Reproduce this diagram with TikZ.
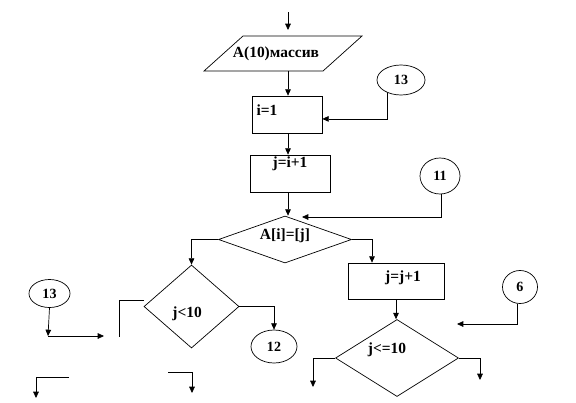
\documentclass[tikz,border=0pt]{standalone}
\usepackage{fontspec}
\setmainfont{Liberation Serif}[BoldFont={Liberation Serif Bold}]
\usetikzlibrary{shapes.geometric,arrows.meta}
\tikzset{
  box/.style={draw, rectangle, inner sep=0pt},
  cond/.style={draw, diamond, inner sep=0pt},
  link/.style={draw, ellipse, inner sep=0pt, font=\bfseries\fontsize{10}{12}\selectfont},
  arr/.style={-{Triangle[length=4.5pt,width=4pt]}},
  txt/.style={font=\bfseries\fontsize{11}{13}\selectfont}
}
\begin{document}
\begin{tikzpicture}[x=0.025cm, y=-0.025cm, line width=0.5pt, txt]
\useasboundingbox (0,0) rectangle (576,402);
% blocks
\draw (243,36) -- (362,36) -- (323,71) -- (204,71) -- cycle;
\node (inp) at (276,53.5) {A(10)массив};
\coordinate (inpN) at (288,36);
\coordinate (inpS) at (288,71);
\node[box, minimum width=1.75cm, minimum height=0.925cm, label={[xshift=-0.5cm, yshift=0.11cm]center:i=1}] (i1) at (287,114.5) {};
\node[box, minimum width=2cm, minimum height=0.925cm, label={[yshift=0.24cm]center:j=i+1}] (ji) at (290,173.5) {};
\node[cond, minimum width=3.325cm, minimum height=1.175cm, label={[yshift=0.09cm]center:A[i]=[j]}] (d1) at (285,239.5) {};
\node[box, minimum width=2.4cm, minimum height=0.9cm, label={[xshift=0.175cm, yshift=0.075cm]center:j=j+1}] (j1) at (396,281) {};
\node[cond, minimum width=2.375cm, minimum height=2.075cm, label={[xshift=-0.11cm, yshift=-0.19cm]center:j<10}] (d2) at (191.5,306.5) {};
\node[cond, minimum width=3.075cm, minimum height=1.925cm, label={[xshift=-0.25cm, yshift=0.2cm]center:j<=10}] (d3) at (397,358) {};
% connectors
\node[link, minimum width=1.2cm, minimum height=0.75cm] (c13a) at (401,80) {13};
\node[link, minimum width=1cm, minimum height=0.9cm] (c11) at (440,176) {11};
\node[link, minimum width=1.15cm, minimum height=0.825cm] (c12) at (274,346.5) {12};
\node[link, minimum width=1.025cm, minimum height=0.7cm] (c13b) at (49.5,293.5) {13};
\node[link, minimum width=0.875cm, minimum height=0.825cm] (c6) at (520,287) {6};
% free ends
\coordinate (topin) at (288,12);
\coordinate (c11in) at (302,217);
\coordinate (c6in) at (457,324);
\coordinate (k1) at (48,336);
\coordinate (k1out) at (104,336);
\coordinate (d3l) at (313,387);
\coordinate (d3r) at (480,380);
\coordinate (s1) at (144,300);
\coordinate (s2) at (119,337);
\coordinate (b1) at (69,377);
\coordinate (b2) at (36,398);
\coordinate (b3) at (168,372);
\coordinate (b4) at (192,393);
% flow
\draw[arr] (topin) -- ([yshift=0.15cm]inpN);
\draw[arr] (inpS) -- (i1.north -| topin);
\draw[arr] (c13a.222) |- ([yshift=-0.11cm]i1.east);
\draw[arr] (i1.south -| topin) -- (ji.north -| topin);
\draw[arr] (ji.south -| topin) -- (d1.north -| topin);
\draw[arr] (c11.275) |- (c11in);
\draw[arr] (d1.east) -| ([xshift=-0.6cm]j1.north);
\draw[arr] (d1.west) -| (d2.north);
\draw[arr] (d2.east) -| (c12.north);
\draw[arr] (j1.south) -- (j1.south |- d3.north);
\draw[arr] (c6.260) |- (c6in);
\draw[arr] (d3.west) -| (d3l);
\draw[arr] (d3.east) -| (d3r);
\draw[arr] (c13b.south) -- (k1);
\draw[arr] (k1) -- (k1out);
\draw (s1) -| (s2);
\draw[arr] (b1) -| (b2);
\draw[arr] (b3) -| (b4);
\end{tikzpicture}
\end{document}
